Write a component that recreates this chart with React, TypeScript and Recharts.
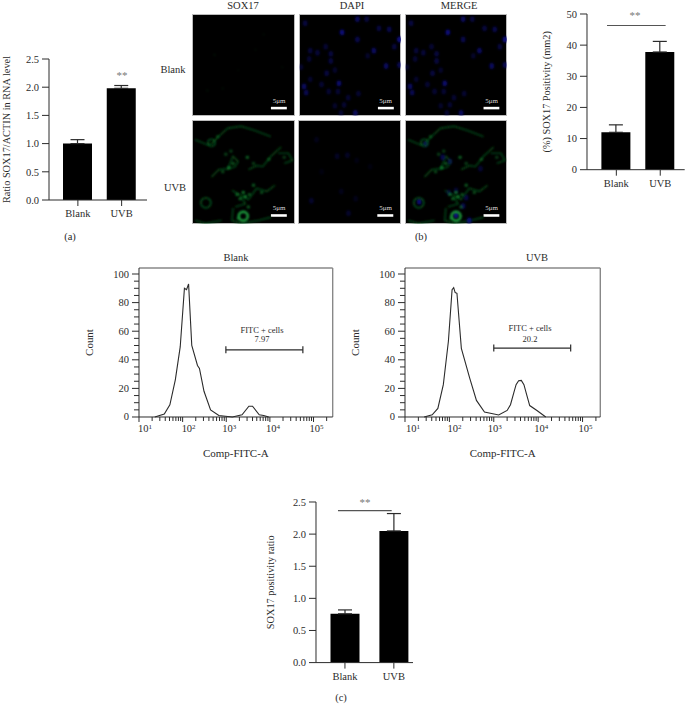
import React from "react";
import {
  BarChart, Bar, ComposedChart, ErrorBar, Line, ReferenceArea, ReferenceLine,
  Scatter, XAxis, YAxis,
} from "recharts";

const SERIF = "'Liberation Serif', serif";
const INK = "#2b2b2b";

const groups = ["Blank", "UVB"];

const rnaMeans = [1.0, 1.98];
const rnaErrors = [0.07, 0.05];
const rnaTicks = [0, 0.5, 1, 1.5, 2, 2.5];

const areaMeans = [12, 37.8];
const areaErrors = [2.4, 3.4];
const areaTicks = [0, 10, 20, 30, 40, 50];

const ratioMeans = [0.76, 2.05];
const ratioErrors = [0.06, 0.27];
const ratioTicks = [0, 0.5, 1, 1.5, 2, 2.5];

const blankCurve = [
  [23, 0], [38, 2], [51, 8.5], [68, 26], [88, 49], [110, 90], [123, 89], [137, 93],
  [162, 50], [219, 36], [243, 34], [309, 18], [437, 5], [676, 1], [1380, 0], [2300, 1.5],
  [3300, 7.5], [4000, 7.5], [5700, 1.5], [7200, 1], [9400, 0],
];
const uvbCurve = [
  [27, 0], [41, 1.5], [55, 6], [73, 22.6], [95, 53], [115, 89], [125, 90.5], [135, 87],
  [148, 86.5], [186, 48], [288, 27], [407, 11.6], [617, 3.5], [1290, 1.4], [2000, 4.6],
  [2380, 8.6], [2820, 16.8], [3180, 22.6], [3630, 25.4], [4170, 25.6], [4780, 22.6],
  [5500, 15.6], [6450, 8], [9550, 4.4], [14800, 0],
];
const blankGate = [[980, 47], [57000, 47]];
const uvbGate = [[1000, 48.2], [54000, 48.2]];

const flowMajorX = [10, 100, 1000, 10000, 100000];
const flowMinorX = [
  20, 30, 40, 50, 60, 70, 80, 90, 200, 300, 400, 500, 600, 700, 800, 900,
  2000, 3000, 4000, 5000, 6000, 7000, 8000, 9000, 20000, 30000, 40000, 50000, 60000, 70000, 80000, 90000, 200000,
];
const flowYTicks = [
  0, 5, 10, 15, 20, 25, 30, 35, 40, 45, 50, 55, 60, 65, 70, 75, 80, 85, 90, 95, 100,
];

// microscope fields on a 0-100 grid
const nucleiBlank = [
  [6, 9, .5], [57, 5, .75], [66, 5, .5], [42, 18, .95], [57, 25, .6], [78, 14, .5], [88, 15, .6],
  [98, 25, 1], [93, 32, .5], [11, 36, .45], [26, 32, .4], [31, 39, .5], [18, 38, .45],
  [31, 46, .5], [10, 44, .4], [73, 36, .75], [85, 51, .75], [98, 50, .65], [27, 58, .5],
  [35, 55, .35], [11, 64, .35], [39, 68, .85], [5, 71, .75], [7, 77, .65], [22, 69, .4],
  [29, 76, .4], [38, 76, .4], [58, 78, .4], [48, 82, .4], [44, 89, .4], [35, 90, .35],
  [55, 97, .75], [41, 97, .4], [2, 52, .35], [67, 41, .35],
];
const nucleiUvb = [
  [18, 19, .2], [38, 35, .3], [48, 34, .3], [57, 39, .15], [13, 78, .35], [49, 90, .35],
  [42, 69, .2], [56, 76, .2], [23, 50, .12], [70, 45, .12],
];
const nucleiUvbMerge = [
  [14, 79, .9], [50, 92, 1], [63, 97, .9], [37, 36, .6], [44, 40, .5], [20, 23, .6],
  [60, 75, .5], [57, 83, .6], [43, 70, .4], [74, 47, .4], [50, 68, .4],
];
const faintGreen = [
  [22, 40, .08], [62, 35, .05], [15, 75, .08], [30, 73, .06], [70, 20, .05], [88, 52, .05], [45, 55, .04],
];
const greenStrands = [
  [[3, 19], [15, 24], [19, 23], [27, 15], [35, 8], [48, 6], [61, 10], [77, 16]],
  [[19, 55], [26, 48], [35, 47], [40, 35], [45, 40], [42, 45], [34, 48]],
  [[55, 48], [63, 44], [69, 45], [77, 35], [87, 26]],
  [[39, 68], [48, 73], [55, 77], [63, 66], [73, 69], [81, 63]],
  [[40, 85], [39, 97], [48, 100], [65, 97], [77, 94]],
  [[84, 32], [94, 32], [98, 39], [90, 42]],
  [[3, 97], [13, 100], [29, 97]],
  [[48, 74], [52, 81], [42, 84]],
];
const greenRings = [
  [13.5, 80, 5, .9], [50, 93, 4.5, 1.6], [19, 22, 3.5, .7],
];
const greenSpots = [
  [54, 36, .8], [60, 63, .7], [50, 70, .9], [44, 72, .8], [36, 46, .8], [33, 33, .5], [68, 70, .6], [52, 74, 1],
  [40, 42, .7], [30, 50, .6], [47, 76, .8], [56, 72, .7], [25, 16, .5], [60, 42, .5], [75, 38, .5], [90, 36, .5],
  [45, 95, .6], [55, 84, .7], [38, 30, .5],
];

const toPts = (rows: number[][]) => rows.map(([x, y, v]) => ({ x, y, v }));
const toRings = (rows: number[][]) => rows.map(([x, y, r, v]) => ({ x, y, r, v }));

function Txt({ x, y, size = 10.5, color = INK, rotate = 0, children }: any) {
  return (
    <div style={{
      position: "absolute", left: x, top: y, whiteSpace: "nowrap", lineHeight: 1,
      transform: `translate(-50%,-50%) rotate(${rotate}deg)`,
      fontFamily: SERIF, fontSize: size, color,
    }}>{children}</div>
  );
}

function SigBars({ plot, means, errors, ticks, yLabel, labelGap, pad, sig }: any) {
  const [l, t, r, b] = plot;
  const axisW = Math.max(labelGap * 2, 40);
  const data = groups.map((g, i) => ({ name: g, mean: means[i], err: [0, errors[i]] }));
  return (
    <div style={{ position: "absolute", left: l - axisW, top: t - 10 }}>
      <BarChart width={r - l + axisW} height={b - t + 40} data={data}
        margin={{ top: 10, right: 0, bottom: 0, left: 0 }}>
        <XAxis dataKey="name" height={30} tickSize={6} tickMargin={4} padding={{ left: pad[0], right: pad[1] }}
          stroke={INK} tick={{ fontFamily: SERIF, fontSize: 10.5, fill: INK }} interval={0} />
        {sig && <XAxis xAxisId="sig" type="number" domain={[0, 1]} hide />}
        <YAxis domain={[0, ticks[ticks.length - 1]]} ticks={ticks} width={axisW} tickSize={7} tickMargin={3}
          stroke={INK} tick={{ fontFamily: SERIF, fontSize: 10.5, fill: INK }}
          tickFormatter={(v: number) => (ticks[1] < 1 ? v.toFixed(1) : String(v))}
          label={{ value: yLabel, angle: -90, position: "center", fontFamily: SERIF, fontSize: 10.3, fill: INK }} />
        <Bar dataKey="mean" fill="#000" barSize={29} isAnimationActive={false}>
          <ErrorBar dataKey="err" width={7} stroke={INK} strokeWidth={1.2} direction="y" isAnimationActive={false} />
        </Bar>
        {sig && (
          <ReferenceLine xAxisId="sig" stroke="#555" strokeWidth={1.2}
            segment={[{ x: sig[0], y: sig[2] }, { x: sig[1], y: sig[2] }]} />
        )}
      </BarChart>
    </div>
  );
}

function FlowPlot({ plot, curve, gate, maxX, nudges }: any) {
  const [l, t, r, b] = plot;
  const axisW = 100, axisH = 72;
  const lineData = curve.map(([x, y]: number[]) => ({ x, y }));
  const gateData = gate.map(([x, y]: number[]) => ({ x, y }));
  const XTick = ({ x, y, payload }: any) => {
    const at = flowMajorX.indexOf(payload.value);
    return (
      <g>
        <line x1={x} x2={x} y1={y} y2={y + (at >= 0 ? 5 : 4)} stroke={INK} />
        {at >= 0 && (
          <text x={x + nudges[at]} y={y + 15} textAnchor="middle" fontFamily={SERIF} fontSize={10.5} fill={INK}>
            10<tspan dy={-3} fontSize={7}>{at + 1}</tspan>
          </text>
        )}
      </g>
    );
  };
  const YTick = ({ x, y, payload }: any) => {
    const major = payload.value % 20 === 0;
    return (
      <g>
        <line x1={x} x2={x - (major ? 7 : 5)} y1={y} y2={y} stroke={INK} />
        {major && (
          <text x={x - 10} y={y + 3.5} textAnchor="end" fontFamily={SERIF} fontSize={10.5} fill={INK}>{payload.value}</text>
        )}
      </g>
    );
  };
  return (
    <div style={{ position: "absolute", left: l - axisW, top: t - 4 }}>
      <ComposedChart width={r - l + axisW + 2} height={b - t + axisH + 4}
        margin={{ top: 4, right: 2, bottom: 0, left: 0 }}>
        <XAxis type="number" dataKey="x" scale="log" domain={[10, maxX]} ticks={[...flowMajorX, ...flowMinorX].sort((p, q) => p - q)}
          interval={0} height={axisH} tickSize={0} tickMargin={0} tick={<XTick />} stroke={INK} allowDataOverflow
          label={{ value: "Comp-FITC-A", position: "center", fontFamily: SERIF, fontSize: 11, fill: INK }} />
        <YAxis type="number" domain={[0, 104.2]} ticks={flowYTicks} interval={0} width={axisW} tickSize={0} tickMargin={0}
          tick={<YTick />} stroke={INK}
          label={{ value: "Count", angle: -90, position: "center", fontFamily: SERIF, fontSize: 11, fill: INK }} />
        <ReferenceLine y={104.2} stroke="#888" strokeWidth={1.4} ifOverflow="visible" />
        <ReferenceLine x={maxX} stroke="#888" strokeWidth={1.4} ifOverflow="visible" />
        <Line data={lineData} dataKey="y" type="linear" stroke={INK} strokeWidth={1.1} dot={false} isAnimationActive={false} />
        <Line data={gateData} dataKey="y" type="linear" stroke={INK} strokeWidth={1.2} isAnimationActive={false}
          dot={({ cx, cy, index }: any) => <line key={index} x1={cx} x2={cx} y1={cy - 3.5} y2={cy + 3.5} stroke={INK} strokeWidth={1.2} />} />
      </ComposedChart>
    </div>
  );
}

function Micrograph({ box, nuclei = [], spots = [], strands = [], rings = [] }: any) {
  const [l, t, r, b] = box;
  const w = r - l, h = b - t;
  const nucleus = ({ cx, cy, payload, index }: any) => (
    <ellipse key={index} cx={cx} cy={cy} rx={2.3} ry={2.9} fill="#0c0c82" opacity={Math.min(1, payload.v)} filter="url(#soft)" />
  );
  const spot = ({ cx, cy, payload, index }: any) => (
    <circle key={index} cx={cx} cy={cy} r={1.6} fill="#148f34" opacity={Math.min(1, payload.v)} filter="url(#soft)" />
  );
  const ring = ({ cx, cy, payload, index }: any) => (
    <circle key={index} cx={cx} cy={cy} r={payload.r} fill="none" stroke={payload.v > 1 ? "#1da641" : "#0f6c27"}
      strokeWidth={payload.v > 1 ? 2.4 : 1.2} filter="url(#soft)" />
  );
  return (
    <div style={{ position: "absolute", left: l, top: t, width: w, height: h, background: "#000", outline: "1px solid #bbb", outlineOffset: -1 }}>
      <ComposedChart width={w} height={h} margin={{ top: 0, right: 0, bottom: 0, left: 0 }}>
        <defs>
          <filter id="soft" x="-60%" y="-60%" width="220%" height="220%"><feGaussianBlur stdDeviation="0.8" /></filter>
        </defs>
        <XAxis type="number" dataKey="x" domain={[0, 100]} hide />
        <YAxis type="number" dataKey="y" domain={[0, 100]} reversed hide />
        {strands.map((s: number[][], i: number) => (
          <Line key={i} data={s.map(([x, y]) => ({ x, y }))} dataKey="y" type="linear" stroke="#0a4d1c" strokeWidth={1.4}
            dot={false} isAnimationActive={false} filter="url(#soft)" />
        ))}
        {nuclei.length > 0 && <Scatter data={toPts(nuclei)} shape={nucleus} isAnimationActive={false} />}
        {spots.length > 0 && <Scatter data={toPts(spots)} shape={spot} isAnimationActive={false} />}
        {rings.length > 0 && <Scatter data={toRings(rings)} shape={ring} isAnimationActive={false} />}
        <ReferenceArea x1={77} x2={92.5} y1={91} y2={93.5} fill="#fff" fillOpacity={1} stroke="none" />
      </ComposedChart>
      <Txt x={w * 0.85} y={h * 0.855} size={7} color="#ddd">5μm</Txt>
    </div>
  );
}

export default function App() {
  return (
    <div style={{ position: "absolute", left: 0, top: 0, width: 685, height: 704, overflow: "hidden", background: "#fff" }}>
      <SigBars plot={[49, 59, 147, 200]} means={rnaMeans} errors={rnaErrors} ticks={rnaTicks}
        yLabel="Ratio SOX17/ACTIN in RNA level" labelGap={43} pad={[7, 3.5]} />
      <Txt x={122} y={75} color="#777" size={11}>**</Txt>
      <Txt x={70} y={237}>(a)</Txt>

      <Txt x={243} y={5.5}>SOX17</Txt>
      <Txt x={352} y={5.5}>DAPI</Txt>
      <Txt x={459} y={5.5}>MERGE</Txt>
      <Txt x={173} y={70}>Blank</Txt>
      <Txt x={175} y={188}>UVB</Txt>
      <Micrograph box={[192, 14, 294.5, 116]} spots={faintGreen} />
      <Micrograph box={[298.5, 14, 401, 116]} nuclei={nucleiBlank} />
      <Micrograph box={[405, 14, 507, 116]} nuclei={nucleiBlank} />
      <Micrograph box={[192, 120, 294.5, 223.5]} strands={greenStrands} rings={greenRings} spots={greenSpots} />
      <Micrograph box={[298, 120, 401, 223.5]} nuclei={nucleiUvb} />
      <Micrograph box={[405, 120, 507, 223.5]} strands={greenStrands} rings={greenRings} spots={greenSpots} nuclei={nucleiUvbMerge} />
      <Txt x={421} y={237}>(b)</Txt>

      <SigBars plot={[587.3, 14.3, 685, 170]} means={areaMeans} errors={areaErrors} ticks={areaTicks}
        yLabel="(%) SOX17 Positivity (mm2)" labelGap={41} pad={[7.4, 2.5]} sig={[0.205, 0.805, 46.3]} />
      <Txt x={635} y={15} color="#777" size={11}>**</Txt>

      <Txt x={236} y={258}>Blank</Txt>
      <FlowPlot plot={[139, 268.3, 332.7, 417.3]} curve={blankCurve} gate={blankGate} maxX={275000} nudges={[6, 6, 3, 3, 3]} />
      <Txt x={262} y={330} size={8.5}>FITC + cells</Txt>
      <Txt x={262} y={339} size={8.5}>7.97</Txt>

      <Txt x={537} y={258}>UVB</Txt>
      <FlowPlot plot={[404.7, 268.3, 600, 417.3]} curve={uvbCurve} gate={uvbGate} maxX={251000} nudges={[8, 5, 1, 3, 3]} />
      <Txt x={530} y={328} size={8.5}>FITC + cells</Txt>
      <Txt x={530} y={339} size={8.5}>20.2</Txt>

      <SigBars plot={[316, 501.7, 413.3, 662.3]} means={ratioMeans} errors={ratioErrors} ticks={ratioTicks}
        yLabel="SOX17 positivity ratio" labelGap={46} pad={[4.5, -5]} sig={[0.226, 0.778, 2.366]} />
      <Txt x={365} y={502} color="#777" size={11}>**</Txt>
      <Txt x={341} y={698}>(c)</Txt>
    </div>
  );
}
